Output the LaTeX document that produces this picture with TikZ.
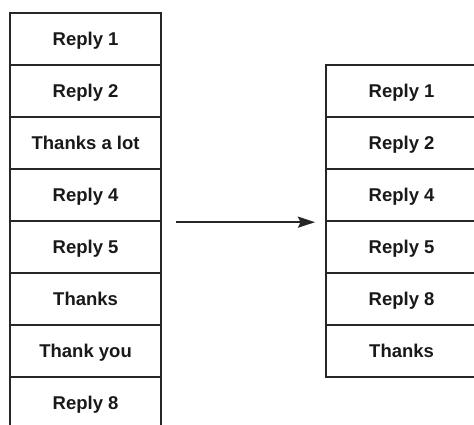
\documentclass[tikz,border=0pt]{standalone}
\usepackage{fontspec}
\setmainfont{Liberation Sans}
\usetikzlibrary{arrows.meta}
\begin{document}
\begin{tikzpicture}[x=1pt,y=-1pt,
  cell/.style={draw=black!85, line width=2.2pt, rectangle, minimum width=151pt,
    minimum height=52pt, inner sep=0pt, anchor=north west,
    text height=13.3pt, text depth=0pt,
    font=\fontsize{18.5}{20}\selectfont\bfseries, text=black!90},
  link/.style={draw=black!85, line width=2.2pt,
    -{Stealth[length=17pt,width=11pt,inset=2.5pt]}}]
\useasboundingbox (0,0) rectangle (474,425);
\clip (0,0) rectangle (474,425);
% original list
\foreach \t [count=\i] in {Reply 1,Reply 2,Thanks a lot,Reply 4,Reply 5,Thanks,Thank you,Reply 8}
  \node[cell] (l\i) at (9,{12+52*(\i-1)}) {\t};
% filtered list
\foreach \t [count=\i] in {Reply 1,Reply 2,Reply 4,Reply 5,Reply 8,Thanks}
  \node[cell] (r\i) at (325,{64+52*(\i-1)}) {\t};
% transformation arrow
\draw[link] ([xshift=14pt]l4.south east) -- ([xshift=-10pt]r3.south west);
\end{tikzpicture}
\end{document}
